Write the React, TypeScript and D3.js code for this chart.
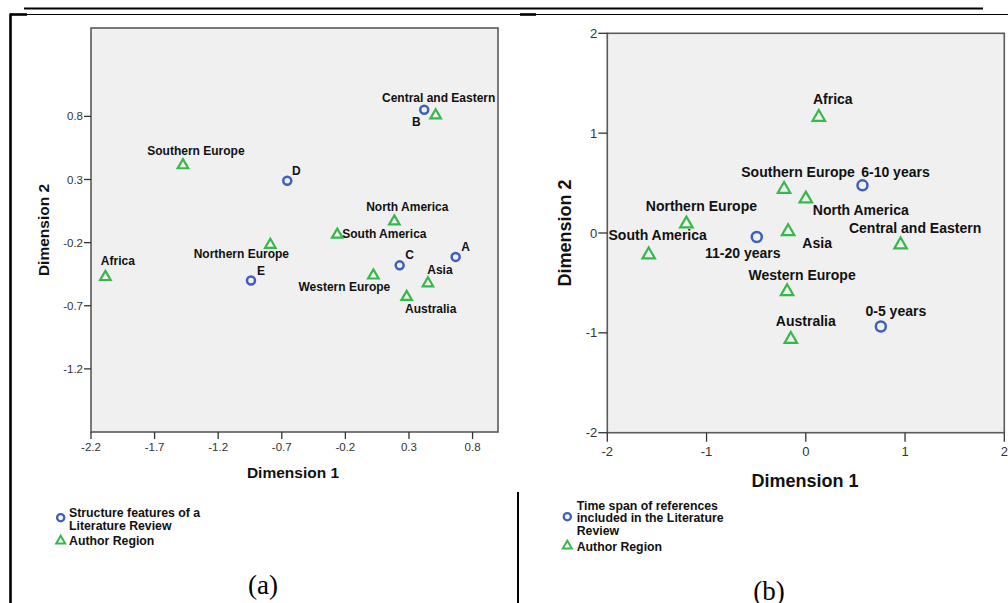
import React from "react";
import * as d3 from "d3";

// ---------- Panel (a) data ----------
const featureNamesA = ["A", "B", "C", "D", "E"];
const featureXA = [0.667, 0.42, 0.227, -0.657, -0.942];
const featureYA = [-0.313, 0.853, -0.38, 0.29, -0.5];

const regionNamesA = [
  "Central and Eastern",
  "Southern Europe",
  "North America",
  "South America",
  "Northern Europe",
  "Africa",
  "Western Europe",
  "Asia",
  "Australia",
];
const regionXA = [0.51, -1.477, 0.185, -0.264, -0.79, -2.087, 0.02, 0.449, 0.282];
const regionYA = [0.82, 0.425, -0.02, -0.125, -0.205, -0.46, -0.448, -0.51, -0.618];

const xTicksA = [-2.2, -1.7, -1.2, -0.7, -0.2, 0.3, 0.8];
const yTicksA = [0.8, 0.3, -0.2, -0.7, -1.2];
const xDomainA = [-2.2, 1.0];
const yDomainA = [-1.7, 1.5];

// ---------- Panel (b) data ----------
const spanNamesB = ["6-10 years", "11-20 years", "0-5 years"];
const spanXB = [0.571, -0.494, 0.756];
const spanYB = [0.477, -0.04, -0.936];

const regionNamesB = [
  "Africa",
  "Southern Europe",
  "North America",
  "Northern Europe",
  "Asia",
  "South America",
  "Central and Eastern",
  "Western Europe",
  "Australia",
];
const regionXB = [0.131, -0.219, 0.0, -1.203, -0.178, -1.583, 0.955, -0.188, -0.151];
const regionYB = [1.178, 0.457, 0.36, 0.11, 0.033, -0.2, -0.1, -0.568, -1.046];

const xTicksB = [-2, -1, 0, 1, 2];
const yTicksB = [2, 1, 0, -1, -2];
const xDomainB = [-2, 2];
const yDomainB = [-2, 2];

const legendA = ["Structure features of a", "Literature Review"];
const legendB = ["Time span of references", "included in the Literature", "Review"];
const legendRegion = "Author Region";

// ---------- layout (label offsets in px: dx, dy of label centre) ----------
const labelOffA: Record<string, [number, number, string?]> = {
  A: [10, -10],
  B: [-8, 12],
  C: [10, -10],
  D: [9, -10],
  E: [10, -10],
  "Central and Eastern": [3, -16],
  "Southern Europe": [13, -13],
  "North America": [13, -13],
  "South America": [5, 1, "start"],
  "Northern Europe": [-29, 11],
  Africa: [12.5, -14],
  "Western Europe": [-29, 13],
  Asia: [12, -12],
  Australia: [24, 14],
};
const labelOffB: Record<string, [number, number, string?]> = {
  "6-10 years": [33, -13],
  "11-20 years": [-14, 16],
  "0-5 years": [15, -15],
  Africa: [14, -16],
  "Southern Europe": [14, -15],
  "North America": [55, 13],
  "Northern Europe": [15, -16],
  Asia: [29, 13],
  "South America": [9, -18],
  "Central and Eastern": [14.5, -15],
  "Western Europe": [15, -15],
  Australia: [15, -16],
};

const BLUE = "#3e5fbd";
const GREEN = "#37b84a";
const FONT = "'Liberation Sans', Arial, sans-serif";

function tri(cx: number, cy: number, s: number) {
  const h = s * 0.866;
  return `M${cx},${cy - h / 2}L${cx + s / 2},${cy + h / 2}L${cx - s / 2},${cy + h / 2}Z`;
}

type PanelProps = {
  box: [number, number, number, number];
  xDomain: number[];
  yDomain: number[];
  xTicks: number[];
  yTicks: number[];
  circNames: string[];
  circX: number[];
  circY: number[];
  triNames: string[];
  triX: number[];
  triY: number[];
  offs: Record<string, [number, number, string?]>;
  labelSize: number;
  tickSize: number;
  tickLen: number;
  titleSize: number;
  r: number;
  triS: number;
  xTitle: [number, number];
  yTitle: [number, number];
  xLabelDy: number;
  fmt: (v: number) => string;
};

function Panel(p: PanelProps) {
  const [x0, y0, x1, y1] = p.box;
  const x = d3.scaleLinear().domain(p.xDomain).range([x0, x1]);
  const y = d3.scaleLinear().domain(p.yDomain).range([y1, y0]);
  const lab = (name: string, px: number, py: number, i: string) => {
    const o = p.offs[name] || [0, -12];
    return (
      <text
        key={i}
        x={px + o[0]}
        y={py + o[1]}
        textAnchor={(o[2] as any) || "middle"}
        dominantBaseline="central"
        fontFamily={FONT}
        fontWeight="bold"
        fontSize={p.labelSize}
        fill="#111"
      >
        {name}
      </text>
    );
  };
  return (
    <g>
      <rect x={x0} y={y0} width={x1 - x0} height={y1 - y0} fill="#f0f0f0" stroke="#5a5a5a" strokeWidth={1.6} />
      {p.yTicks.map((t) => (
        <g key={"yt" + t}>
          <line x1={x0 - p.tickLen} x2={x0} y1={y(t)} y2={y(t)} stroke="#333" strokeWidth={1.3} />
          <text
            x={x0 - p.tickLen - 1}
            y={y(t)}
            textAnchor="end"
            dominantBaseline="central"
            fontFamily={FONT}
            fontSize={p.tickSize}
            fill="#333"
          >
            {p.fmt(t)}
          </text>
        </g>
      ))}
      {p.xTicks.map((t) => (
        <g key={"xt" + t}>
          <line x1={x(t)} x2={x(t)} y1={y1} y2={y1 + p.tickLen} stroke="#333" strokeWidth={1.3} />
          <text
            x={x(t)}
            y={y1 + p.xLabelDy}
            textAnchor="middle"
            dominantBaseline="central"
            fontFamily={FONT}
            fontSize={p.tickSize}
            fill="#333"
          >
            {p.fmt(t)}
          </text>
        </g>
      ))}
      <text
        x={p.xTitle[0]}
        y={p.xTitle[1]}
        textAnchor="middle"
        dominantBaseline="central"
        fontFamily={FONT}
        fontWeight="bold"
        fontSize={p.titleSize}
        fill="#111"
      >
        Dimension 1
      </text>
      <text
        transform={`translate(${p.yTitle[0]},${p.yTitle[1]}) rotate(-90)`}
        textAnchor="middle"
        dominantBaseline="central"
        fontFamily={FONT}
        fontWeight="bold"
        fontSize={p.titleSize}
        fill="#111"
      >
        Dimension 2
      </text>
      {p.triNames.map((n, i) => (
        <path key={"tr" + n} d={tri(x(p.triX[i]), y(p.triY[i]), p.triS)} fill="none" stroke={GREEN} strokeWidth={2.2} />
      ))}
      {p.circNames.map((n, i) => (
        <circle key={"c" + n} cx={x(p.circX[i])} cy={y(p.circY[i])} r={p.r} fill="none" stroke={BLUE} strokeWidth={2.5} />
      ))}
      {p.triNames.map((n, i) => lab(n, x(p.triX[i]), y(p.triY[i]), "tl" + n))}
      {p.circNames.map((n, i) => lab(n, x(p.circX[i]), y(p.circY[i]), "cl" + n))}
    </g>
  );
}

function Legend({ cx, lines, lineYs, circY, triY, regionY, tx }: any) {
  return (
    <g fontFamily={FONT} fontWeight="bold" fontSize={12.3} fill="#111">
      <circle cx={cx} cy={circY} r={3.6} fill="none" stroke={BLUE} strokeWidth={2.3} />
      {lines.map((l: string, i: number) => (
        <text key={l} x={tx} y={lineYs[i]} dominantBaseline="central">
          {l}
        </text>
      ))}
      <path d={tri(cx, triY, 9)} fill="none" stroke={GREEN} strokeWidth={2} />
      <text x={tx} y={regionY} dominantBaseline="central">
        {legendRegion}
      </text>
    </g>
  );
}

export default function App() {
  const fmtA = (v: number) => v.toFixed(1);
  const fmtB = (v: number) => String(v);
  return (
    <svg width={1008} height={603} style={{ position: "absolute", left: 0, top: 0, display: "block" }}>
      <rect width={1008} height={603} fill="#fff" />
      {/* page frame */}
      <line x1={24} x2={983} y1={8.5} y2={8.5} stroke="#000" strokeWidth={1.8} />
      <line x1={10} x2={1008} y1={14.5} y2={14.5} stroke="#000" strokeWidth={1} />
      <line x1={10} x2={27} y1={14.5} y2={14.5} stroke="#000" strokeWidth={2.6} />
      <line x1={520} x2={536} y1={14.5} y2={14.5} stroke="#000" strokeWidth={2.6} />
      <line x1={10.5} x2={10.5} y1={13.5} y2={603} stroke="#000" strokeWidth={2.6} />
      <line x1={518} x2={518} y1={492} y2={603} stroke="#000" strokeWidth={2} />

      <Panel
        box={[91, 28, 498, 432]}
        xDomain={xDomainA}
        yDomain={yDomainA}
        xTicks={xTicksA}
        yTicks={yTicksA}
        circNames={featureNamesA}
        circX={featureXA}
        circY={featureYA}
        triNames={regionNamesA}
        triX={regionXA}
        triY={regionYA}
        offs={labelOffA}
        labelSize={12}
        tickSize={11.5}
        tickLen={7}
        titleSize={15.5}
        r={4}
        triS={10.5}
        xTitle={[293, 472.7]}
        yTitle={[43, 230]}
        xLabelDy={14.7}
        fmt={fmtA}
      />
      <Panel
        box={[607.3, 33.3, 1004.3, 432.7]}
        xDomain={xDomainB}
        yDomain={yDomainB}
        xTicks={xTicksB}
        yTicks={yTicksB}
        circNames={spanNamesB}
        circX={spanXB}
        circY={spanYB}
        triNames={regionNamesB}
        triX={regionXB}
        triY={regionYB}
        offs={labelOffB}
        labelSize={14}
        tickSize={13}
        tickLen={9}
        titleSize={18}
        r={5}
        triS={12.5}
        xTitle={[805, 480.7]}
        yTitle={[565, 233]}
        xLabelDy={18.3}
        fmt={fmtB}
      />
      <Legend cx={60.7} tx={69} lines={legendA} lineYs={[512.7, 525.7]} circY={517.7} triY={539.7} regionY={540.7} />
      <Legend cx={567.3} tx={576.7} lines={legendB} lineYs={[505.7, 518.3, 531]} circY={516.7} triY={544.7} regionY={546.7} />

      <text x={263} y={594} textAnchor="middle" fontFamily="'Liberation Serif', 'Times New Roman', serif" fontSize={27} fill="#000">
        (a)
      </text>
      <text x={769} y={600} textAnchor="middle" fontFamily="'Liberation Serif', 'Times New Roman', serif" fontSize={27} fill="#000">
        (b)
      </text>
    </svg>
  );
}
